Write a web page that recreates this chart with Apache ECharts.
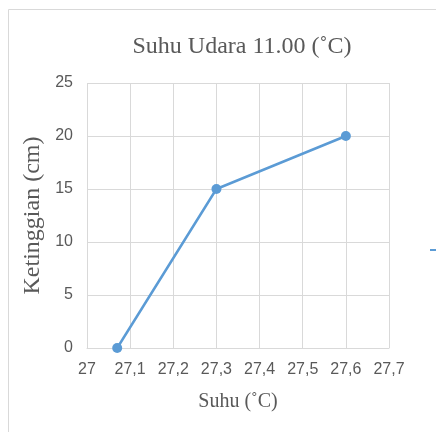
<!DOCTYPE html>
<html>
<head>
<meta charset="utf-8">
<script src="https://cdn.jsdelivr.net/npm/echarts@6/dist/echarts.min.js"></script>
<style>
  html, body { margin: 0; padding: 0; background: #fff; }
  #chart { width: 436px; height: 432px; }
</style>
</head>
<body>
<div id="chart"></div>
<script>
// Temperature (°C) against plant height (cm) at 11.00
const suhu = [27.07, 27.3, 27.6];
const tinggi = [0, 15, 20];
const xTicks = [27, 27.1, 27.2, 27.3, 27.4, 27.5, 27.6, 27.7];
const yTicks = [0, 5, 10, 15, 20, 25];

const points = suhu.map((s, i) => [s, tinggi[i]]);
const grey = '#595959';
const gridCol = '#D9D9D9';
const serif = "'Liberation Serif', 'Times New Roman', serif";
const sans = "'Liberation Sans Narrow', 'Liberation Sans', sans-serif";

const chart = echarts.init(document.getElementById('chart'));
chart.setOption({
  animation: false,
  title: {
    text: 'Suhu Udara 11.00 (˚C)',
    left: 237,
    top: 30,
    textAlign: 'center',
    textStyle: { fontFamily: serif, fontSize: 24, fontWeight: 'normal', color: grey }
  },
  graphic: [{
    type: 'rect',
    shape: { x: 8.5, y: 9.5, width: 440, height: 440 },
    style: { fill: 'none', stroke: gridCol, lineWidth: 1 },
    z: -1
  }],
  legend: {
    left: 424,
    top: 238,
    itemWidth: 25,
    itemHeight: 14,
    textStyle: { color: grey, fontSize: 14 },
    data: ['Ketinggian']
  },
  grid: { left: 87, right: 47, top: 83, bottom: 84 },
  xAxis: {
    type: 'value',
    min: xTicks[0],
    max: xTicks[xTicks.length - 1],
    interval: 0.1,
    name: 'Suhu (˚C)',
    nameLocation: 'middle',
    nameGap: 44,
    nameTextStyle: { fontFamily: serif, fontSize: 20, color: grey },
    axisLine: { show: true, lineStyle: { color: gridCol, width: 1 } },
    axisTick: { show: false },
    axisLabel: {
      margin: 14,
      color: grey,
      fontSize: 16,
      fontFamily: sans,
      formatter: v => {
        const r = Math.round(v * 10) / 10;
        return String(r).replace('.', ',');
      }
    },
    splitLine: { show: true, lineStyle: { color: gridCol, width: 1 } }
  },
  yAxis: {
    type: 'value',
    min: yTicks[0],
    max: yTicks[yTicks.length - 1],
    interval: 5,
    name: 'Ketinggian (cm)',
    nameLocation: 'middle',
    nameGap: 42,
    nameRotate: 90,
    nameTextStyle: { fontFamily: serif, fontSize: 24, color: grey },
    axisLine: { show: false },
    axisTick: { show: false },
    axisLabel: { margin: 14, color: grey, fontSize: 16, fontFamily: sans },
    splitLine: { show: true, lineStyle: { color: gridCol, width: 1 } }
  },
  series: [{
    name: 'Ketinggian',
    type: 'line',
    data: points,
    symbol: 'circle',
    symbolSize: 10,
    itemStyle: { color: '#5B9BD5' },
    lineStyle: { color: '#5B9BD5', width: 2.5 }
  }]
});
</script>
</body>
</html>
